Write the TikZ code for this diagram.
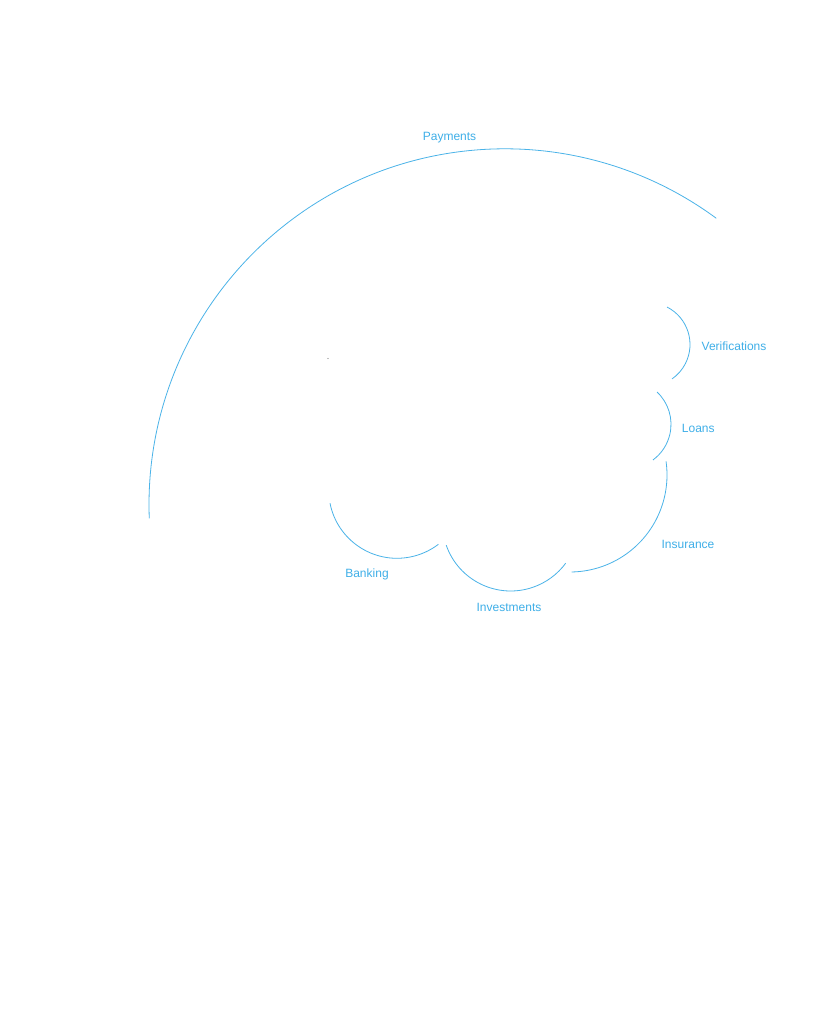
\documentclass[tikz,border=0pt]{standalone}
\usepackage{fontspec}
\setmainfont{Liberation Sans}
\usetikzlibrary{positioning}
\usetikzlibrary{calc}
\definecolor{arcblue}{HTML}{4AB3E8}
\definecolor{lblblue}{HTML}{3FAFE8}
\begin{document}
\begin{tikzpicture}[x=1pt,y=1pt,
    seg/.style={draw=arcblue,line width=0.8pt},
    lbl/.style={text=lblblue,anchor=base,inner sep=0pt,font=\fontsize{12}{14}\selectfont}]
        \useasboundingbox (0,0) rectangle (833,1022);
        \fill[white] (0,0) rectangle (833,1022);

        % Define the centres of the arcs
        \coordinate (pay) at (505,517.2);
        \coordinate (ver) at (648,677.5);
        \coordinate (loa) at (626.7,597.7);
        \coordinate (ins) at (570,547);
        \coordinate (inv) at (510.7,499.3);
        \coordinate (ban) at (397,532);

        % Draw the arcs
        \foreach \c/\r/\a/\b in {pay/356/182.2/53.6, ver/42/63/-55, loa/44.3/46.8/-53.6,
                                 ins/97/8/-89, inv/68.3/199.2/323.6, ban/68.3/191.2/307.3}
        \draw[seg] (\c) ++(\a:\r) arc[start angle=\a, end angle=\b, radius=\r];

        \fill[gray] (328,663.5) circle (0.6pt);

        % Labels
        \foreach \name/\x/\y in {Payments/449.5/881.8, Verifications/734/671.3, Loans/698.3/589.8,
                                 Insurance/688/473.8, Investments/509/410.8, Banking/367/444.8}
        \node[lbl] (\name) at (\x,\y) {\name};
      \end{tikzpicture}
\end{document}
